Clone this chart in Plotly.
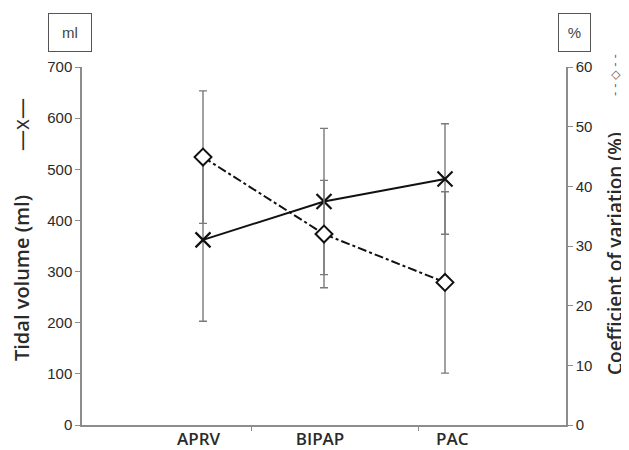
import plotly.graph_objects as go

categories = ["APRV", "BIPAP", "PAC"]
cat_pos = [1, 2, 3]
label_pos = [0.963, 1.967, 3.06]
tidal_volume = [362, 437, 481]
tidal_err = [159, 143, 108]
cv_percent = [44.9, 32.0, 23.9]
cv_err = [11.1, 9.0, 15.2]
left_ticks = [0, 100, 200, 300, 400, 500, 600, 700]
right_ticks = [0, 10, 20, 30, 40, 50, 60]
x_tick_marks = [1.397, 2.777]

AX = "#8c8c8c"
TXT = "#2a2a2a"
OFFX, OFFY = 8, 8  # page offset of the figure (body margin)
W, H = 629 - OFFX, 450 - OFFY
L, T = 82 - OFFX, 67 - OFFY
PW, PH = 484, 358
R = W - L - PW
B = H - T - PH

fig = go.Figure()

fig.add_trace(go.Scatter(
    x=cat_pos, y=tidal_volume, mode="lines+markers",
    line=dict(color="#111111", width=2),
    marker=dict(symbol="x-thin", size=15, line=dict(color="#111111", width=2.2)),
    error_y=dict(type="data", array=tidal_err, visible=True, color="#7a7a7a", thickness=1.4, width=4),
    yaxis="y", showlegend=False))

fig.add_trace(go.Scatter(
    x=cat_pos, y=cv_percent, mode="lines+markers",
    line=dict(color="#111111", width=2, dash="dashdot"),
    marker=dict(symbol="diamond", size=13, color="white", line=dict(color="#111111", width=2)),
    error_y=dict(type="data", array=cv_err, visible=True, color="#7a7a7a", thickness=1.4, width=4),
    yaxis="y2", showlegend=False))

fig.update_layout(
    width=W, height=H,
    margin=dict(l=L, r=R, t=T, b=B, autoexpand=False),
    plot_bgcolor="white", paper_bgcolor="white",
    xaxis=dict(range=[0, 4], showgrid=False, zeroline=False,
               showline=True, linecolor=AX, linewidth=1.5,
               tickmode="array", tickvals=label_pos, ticktext=categories,
               ticks="outside", ticklen=0, tickcolor=AX, ticklabelstandoff=-2,
               tickfont=dict(family="Open Sans", size=17, color=TXT, weight=600),
               minor=dict(tickmode="array", tickvals=x_tick_marks, ticks="outside",
                          ticklen=4, tickcolor=AX, tickwidth=1.2),
               fixedrange=True),
    yaxis=dict(range=[0, 700], tickmode="array", tickvals=left_ticks,
               showgrid=False, zeroline=False,
               showline=True, linecolor=AX, linewidth=1.5,
               ticks="outside", ticklen=5, tickcolor=AX,
               tickfont=dict(family="Liberation Sans", size=15, color=TXT)),
    yaxis2=dict(range=[0, 60], tickmode="array", tickvals=right_ticks,
                overlaying="y", side="right", showgrid=False, zeroline=False,
                showline=True, linecolor=AX, linewidth=1.5,
                ticks="outside", ticklen=5, tickcolor=AX,
                tickfont=dict(family="Liberation Sans", size=15, color=TXT)),
    annotations=[
        dict(text="Tidal volume (ml)", textangle=-90, x=21, y=278, showarrow=False,
             font=dict(family="Open Sans", size=20, color=TXT, weight=600)),
        dict(text="—x—", textangle=-90, x=21, y=125, showarrow=False,
             font=dict(family="Open Sans", size=21, color=TXT)),
        dict(text="Coefficient of variation (%)", textangle=-90, x=615, y=254, showarrow=False,
             font=dict(family="Open Sans", size=19, color=TXT, weight=600)),
        dict(text="- - ◇ - -", textangle=-90, x=615, y=75, showarrow=False,
             font=dict(family="DejaVu Sans", size=12, color="#666666")),
        dict(text="ml", x=70, y=32, showarrow=False, width=40, height=35,
             bordercolor="#555555", borderwidth=1, bgcolor="white",
             font=dict(family="Liberation Sans", size=15, color="#444444")),
        dict(text="%", x=574, y=32, showarrow=False, width=29, height=35,
             bordercolor="#555555", borderwidth=1, bgcolor="white",
             font=dict(family="Liberation Sans", size=15, color="#444444")),
    ],
)

# convert annotation window-pixel coordinates to paper coords
for a in fig.layout.annotations:
    a.xref = "paper"; a.yref = "paper"
    a.xanchor = "center"; a.yanchor = "middle"
    a.x = (a.x - OFFX - L) / PW
    a.y = (T + PH - (a.y - OFFY)) / PH

fig.write_html("out.html")
